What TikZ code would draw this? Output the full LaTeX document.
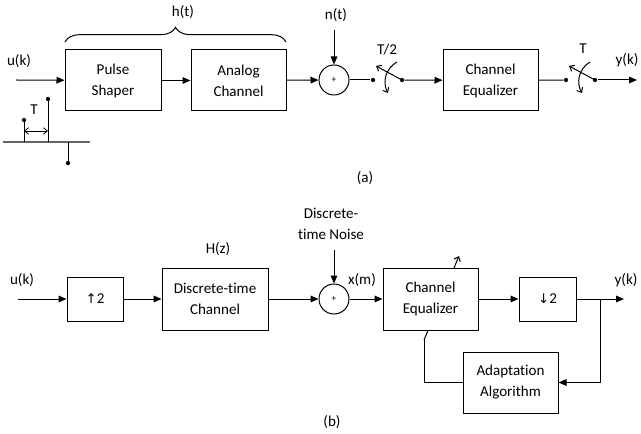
\documentclass[tikz,border=0pt]{standalone}
\usepackage{fontspec}
\setmainfont{Carlito}[Ligatures=NoCommon]
\newfontfamily\symf{DejaVu Sans}
\usetikzlibrary{arrows.meta,decorations.pathreplacing}
\begin{document}
\begin{tikzpicture}[x=0.75pt,y=-0.75pt,
  every node/.style={font=\fontsize{11.3}{15.75}\selectfont},
  line width=0.75pt,
  blk/.style={draw, fill=white, align=center, inner sep=0pt, line width=0.75pt},
  sumc/.style={draw, circle, fill=white, minimum size=22.5pt, inner sep=0pt, font=\fontsize{7}{8}\selectfont},
  dotn/.style={circle, fill, inner sep=0pt, minimum size=3.2pt},
  arr/.style={-{Triangle[length=6pt,width=5pt]}},
  barb/.style={-{Straight Barb[length=3pt,width=5pt]}},
  lbl/.style={inner sep=0pt}
]
\useasboundingbox (0,0) rectangle (641,434);

% ---------------- (a) ----------------
\node[blk, minimum width=72pt, minimum height=45.75pt] (ps) at (113,80.5) {Pulse\\Shaper};
\node[blk, minimum width=71.25pt, minimum height=45.75pt] (ac) at (238.5,80.5) {Analog\\Channel};
\node[sumc] (sa) at (334,80) {+};
\node[blk, minimum width=71.25pt, minimum height=45.75pt] (eqa) at (490.5,80.5) {Channel\\Equalizer};

\node[dotn] (s1l) at (373,80) {};
\node[dotn] (s1r) at (402,80) {};
\node[dotn] (s2l) at (566,80) {};
\node[dotn] (s2r) at (595,80) {};

\coordinate (ina) at (16,80);
\coordinate (outa) at (637,80);
\coordinate (nta) at (334,30);
\coordinate (lev1) at (376,66);
\coordinate (lev2) at (569,66);
\coordinate (c1s) at (397,62);
\coordinate (c1e) at (388,93);
\coordinate (c2s) at (590,62);
\coordinate (c2e) at (582,93);
\coordinate (brl) at (65,42);
\coordinate (brr) at (286,42);

\draw[arr] (ina) -- (ps);
\draw[arr] (ps) -- (ac);
\draw[arr] (ac) -- (sa);
\draw[arr] (nta) -- (sa);
\draw (sa) -- (s1l);
\draw[arr] (s1r) -- (eqa);
\draw (eqa) -- (s2l);
\draw[arr] (s2r) -- (outa);
\draw[barb] (s1r.center) -- (lev1);
\draw[barb] (s2r.center) -- (lev2);
\draw[barb] (c1s) to[bend right=45] (c1e);
\draw[barb] (c2s) to[bend right=45] (c2e);
\draw[decorate, decoration={brace, amplitude=11pt}] (brl) -- (brr);

\node[lbl] (ht) at (183,12) {h(t)};
\node[lbl] (uka) at (19,61) {u(k)};
\node[lbl] (nt) at (336,15) {n(t)};
\node[lbl] (t2) at (387,50) {T/2};
\node[lbl] (t1) at (583,49) {T};
\node[lbl] (yka) at (627,60) {y(k)};
\node[lbl] (la) at (365,178) {(a)};

% impulse train
\coordinate (bl0) at (3,142);
\coordinate (bl1) at (90,142);
\coordinate (i1b) at (24,142);
\coordinate (i2b) at (48,142);
\coordinate (i3b) at (68,142);
\node[dotn] (i1) at (24,120) {};
\node[dotn] (i2) at (48,99) {};
\node[dotn] (i3) at (68,163) {};
\coordinate (da) at (24,131);
\coordinate (db) at (48,131);
\draw[gray!80!black, line width=1.1pt] (bl0) -- (bl1);
\draw (i1b) -- (i1.center);
\draw (i2b) -- (i2.center);
\draw (i3b) -- (i3.center);
\draw[{Straight Barb[length=3pt,width=5pt]}-{Straight Barb[length=3pt,width=5pt]}, line width=0.6pt] (da) -- (db);
\node[lbl] (tt) at (34,110) {T};

% ---------------- (b) ----------------
\coordinate (fb1) at (424,340);
\coordinate (tune) at (459,256);
\draw[barb] (fb1) -- (tune);

\node[blk, minimum width=42pt, minimum height=33pt] (up) at (95,299) {{\symf\fontsize{10}{12}\selectfont ↑}2};
\node[blk, minimum width=79.5pt, minimum height=46.5pt] (dtc) at (215,299) {Discrete-time\\Channel};
\node[sumc] (sb) at (334,299) {+};
\node[blk, minimum width=71.25pt, minimum height=46.5pt] (eqb) at (430.5,299) {Channel\\Equalizer};
\node[blk, minimum width=42.75pt, minimum height=33pt] (down) at (547.5,299) {{\symf\fontsize{10}{12}\selectfont ↓}2};
\node[blk, minimum width=71.25pt, minimum height=45.75pt] (adapt) at (510.5,382.5) {Adaptation\\Algorithm};

\coordinate (inb) at (18,299);
\coordinate (outb) at (624,299);
\coordinate (br) at (600,299);
\coordinate (ntb) at (334,250);

\draw[arr] (inb) -- (up);
\draw[arr] (up) -- (dtc);
\draw[arr] (dtc) -- (sb);
\draw[arr] (ntb) -- (sb);
\draw[arr] (sb) -- (eqb);
\draw[arr] (eqb) -- (down);
\draw[arr] (down) -- (outb);
\draw[arr] (br) |- (adapt.east);
\draw (adapt.west) -| (fb1);

\node[lbl] (ukb) at (22,280) {u(k)};
\node[lbl] (hz) at (218,249) {H(z)};
\node[lbl, align=center] (noise) at (331,223.5) {Discrete-\\time Noise};
\node[lbl] (xm) at (362,280) {x(m)};
\node[lbl] (ykb) at (626,280) {y(k)};
\node[lbl] (lb) at (332,422) {(b)};
\end{tikzpicture}
\end{document}
